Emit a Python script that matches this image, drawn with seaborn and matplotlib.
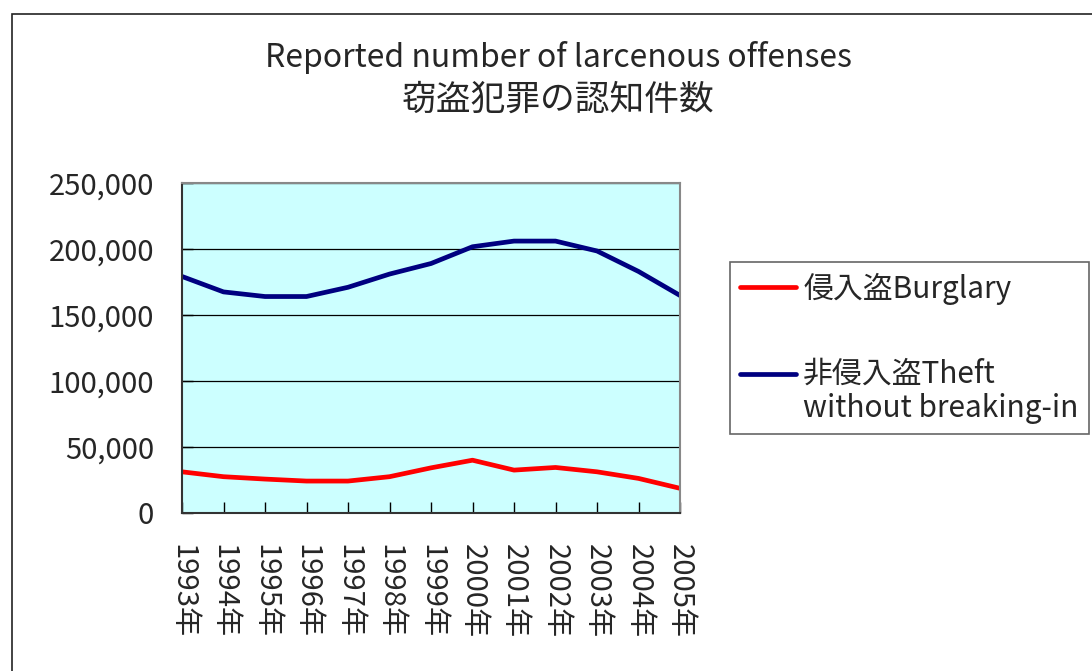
import numpy as np
import pandas as pd
import matplotlib
matplotlib.use('Agg')
import matplotlib.pyplot as plt
import matplotlib.ticker as mticker
from matplotlib.patches import Rectangle
import seaborn as sns

# ── datos ─────────────────────────────────────────────────────────────────────
years = ['1993年', '1994年', '1995年', '1996年', '1997年', '1998年', '1999年',
         '2000年', '2001年', '2002年', '2003年', '2004年', '2005年']
burglary = [31200, 27500, 25700, 24200, 24200, 27500, 34200,
            40000, 32500, 34500, 31200, 26200, 18700]
theft = [179200, 167500, 164000, 164000, 171000, 181000, 189000,
         201700, 206000, 206000, 198500, 183000, 164800]
series_names = ['侵入盗Burglary', '非侵入盗Theft']
yticks = [0, 50000, 100000, 150000, 200000, 250000]

df = pd.DataFrame({
    'year': years * 2,
    'count': burglary + theft,
    'series': [series_names[0]] * len(years) + [series_names[1]] * len(years),
})

# ── estilo ────────────────────────────────────────────────────────────────────
sns.set_style('white')
plt.rcParams['font.family'] = ['Noto Sans CJK JP', 'DejaVu Sans']
FS = 21
FS_LEG = 21.5
ROJO = '#FF0000'; AZUL = '#000080'; FONDO_AX = '#CCFFFF'

fig = plt.figure(figsize=(10.92, 6.71), dpi=100)
fig.patch.set_facecolor('white')
ax = fig.add_axes([182/1092, 1 - 513/671, (680-182)/1092, (513-183)/671])
ax.set_facecolor(FONDO_AX)

sns.lineplot(data=df, x='year', y='count', hue='series',
             palette={series_names[0]: ROJO, series_names[1]: AZUL},
             linewidth=3.4, legend=False, ax=ax, sort=False)

ax.set_xlim(0, len(years) - 1)
ax.set_ylim(0, 250000)
ax.set_yticks(yticks)
ax.yaxis.set_major_formatter(mticker.FuncFormatter(lambda v, p: f'{int(v):,}'))
ax.set_xlabel(''); ax.set_ylabel('')
ax.grid(axis='y', color='black', lw=0.9)
ax.set_axisbelow(True)
ax.tick_params(axis='y', direction='in', length=8, width=1, color='black',
               labelsize=FS, pad=20, left=True)
ax.tick_params(axis='x', direction='in', length=8, width=1, color='black',
               labelsize=FS, pad=22, bottom=True, labelrotation=-90)
for lbl in ax.get_xticklabels():
    lbl.set_ha('center'); lbl.set_va('top')
for side in ['left', 'bottom']:
    ax.spines[side].set_color('#333333'); ax.spines[side].set_linewidth(1.5)
for side in ['top', 'right']:
    ax.spines[side].set_color('#888888'); ax.spines[side].set_linewidth(1.5)

# títulos
fig.text(558/1092, 1 - 57/671, 'Reported number of larcenous offenses',
         ha='center', va='center', fontsize=23)
fig.text(558/1092, 1 - 100/671, '窃盗犯罪の認知件数',
         ha='center', va='center', fontsize=25)

# leyenda
lines = ax.get_lines()[:2]
leg = fig.legend(lines, [series_names[0], series_names[1] + '\nwithout breaking-in'],
                 loc='upper left', bbox_to_anchor=(730/1092, 1 - 262/671),
                 fontsize=FS_LEG, frameon=True, fancybox=False, edgecolor='#666666',
                 framealpha=1, handlelength=1.85, handletextpad=0.25,
                 labelspacing=1.8, borderpad=0.35, borderaxespad=0)
leg.get_frame().set_linewidth(1.2)
for t in leg.get_texts():
    t.set_linespacing(1.15)
h = leg.legend_handles[1]
h.set_ydata(np.asarray(h.get_ydata()) + 0.62 * FS_LEG)

# marco exterior
fig.patches.append(Rectangle((12/1092, -0.1), 1.2, 1 - 14/671 + 0.1,
                             transform=fig.transFigure, fill=False,
                             edgecolor='#222222', lw=1.2))

plt.savefig('out.png', dpi=100, facecolor='white')
plt.close()
